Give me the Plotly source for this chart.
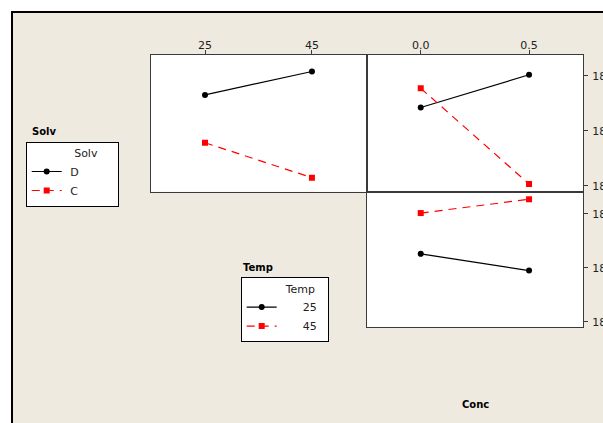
import plotly.graph_objects as go

W, H = 603, 423

# ---- data ----
temp_levels = [25, 45]
conc_levels = [0.0, 0.5]
conc_ticktext = ["0.0", "0.5"]

solv_D_by_temp = [18.531, 18.616]
solv_C_by_temp = [18.357, 18.230]
solv_D_by_conc = [18.485, 18.604]
solv_C_by_conc = [18.555, 18.207]
temp_25_by_conc = [18.252, 18.190]
temp_45_by_conc = [18.403, 18.454]

top_yticks = [18.2, 18.4, 18.6]
bottom_yticks = [18.0, 18.2, 18.4]
top_yrange = [18.179, 18.676]
bottom_yrange = [17.981, 18.481]

FONT = "DejaVu Sans"
BEIGE = "#EEEAE0"
AXC = "#3a3a3a"
NB = "\u00a0"


def px(p):
    return p / W


def py(p):
    return 1 - p / H


black = dict(color="black", width=1.2)
red = dict(color="#FF0000", width=1.2, dash="8px,6px")
mk_black = dict(symbol="circle", size=6, color="black")
mk_red = dict(symbol="square", size=6, color="#FF0000")

fig = go.Figure()

# Top-left: Solv lines vs Temp
fig.add_trace(go.Scatter(x=temp_levels, y=solv_D_by_temp, mode="lines+markers", name=NB + "D",
                         line=black, marker=mk_black, xaxis="x", yaxis="y",
                         legend="legend", legendgroup="D"))
fig.add_trace(go.Scatter(x=temp_levels, y=solv_C_by_temp, mode="lines+markers", name=NB + "C",
                         line=red, marker=mk_red, xaxis="x", yaxis="y",
                         legend="legend", legendgroup="C"))
# Top-right: Solv lines vs Conc
fig.add_trace(go.Scatter(x=conc_levels, y=solv_D_by_conc, mode="lines+markers", name=NB + "D",
                         line=black, marker=mk_black, xaxis="x2", yaxis="y2",
                         legend="legend", legendgroup="D", showlegend=False))
fig.add_trace(go.Scatter(x=conc_levels, y=solv_C_by_conc, mode="lines+markers", name=NB + "C",
                         line=red, marker=mk_red, xaxis="x2", yaxis="y2",
                         legend="legend", legendgroup="C", showlegend=False))
# Bottom-right: Temp lines vs Conc
fig.add_trace(go.Scatter(x=conc_levels, y=temp_25_by_conc, mode="lines+markers", name=NB * 6 + "25",
                         line=black, marker=mk_black, xaxis="x3", yaxis="y3",
                         legend="legend2"))
fig.add_trace(go.Scatter(x=conc_levels, y=temp_45_by_conc, mode="lines+markers", name=NB * 6 + "45",
                         line=red, marker=mk_red, xaxis="x3", yaxis="y3",
                         legend="legend2"))

ax_common = dict(showline=True, mirror=True, linecolor=AXC, linewidth=1, showgrid=False,
                 zeroline=False, automargin=False, tickcolor=AXC, ticklen=4,
                 tickfont=dict(family=FONT, size=11, color="#222"))

fig.update_layout(
    width=W, height=H, autosize=False,
    margin=dict(l=0, r=0, t=0, b=0, pad=0),
    paper_bgcolor=BEIGE, plot_bgcolor="white",
    showlegend=True,
    xaxis=dict(domain=[px(151), px(367)], anchor="y", side="top", range=[14.9, 55.3],
               tickvals=temp_levels, ticks="outside", ticklabelstandoff=-3, **ax_common),
    yaxis=dict(domain=[py(191.7), py(55)], anchor="x", range=top_yrange,
               showticklabels=False, ticks="", **ax_common),
    xaxis2=dict(domain=[px(367), px(583)], anchor="y2", side="top", range=[-0.248, 0.749],
                tickvals=conc_levels, ticktext=conc_ticktext, ticks="outside",
                ticklabelstandoff=-3, **ax_common),
    yaxis2=dict(domain=[py(191.7), py(55)], anchor="x2", side="right", range=top_yrange,
                tickvals=top_yticks, ticks="outside", ticklabelstandoff=2, **ax_common),
    xaxis3=dict(domain=[px(367), px(583)], anchor="y3", range=[-0.248, 0.749],
                showticklabels=False, ticks="", **ax_common),
    yaxis3=dict(domain=[py(327), py(192)], anchor="x3", side="right", range=bottom_yrange,
                tickvals=bottom_yticks, ticks="outside", ticklabelstandoff=2, **ax_common),
    legend=dict(x=px(25.7), y=py(141.7), xanchor="left", yanchor="top",
                bgcolor="white", bordercolor="black", borderwidth=1,
                font=dict(family=FONT, size=11, color="#222"), tracegroupgap=0,
                title=dict(text=NB * 13 + "Solv" + NB * 5, side="top",
                           font=dict(family=FONT, size=11, color="#222"))),
    legend2=dict(x=px(240.7), y=py(277.3), xanchor="left", yanchor="top",
                 bgcolor="white", bordercolor="black", borderwidth=1,
                 font=dict(family=FONT, size=11, color="#222"), tracegroupgap=0,
                 title=dict(text=NB * 12 + "Temp" + NB * 3, side="top",
                            font=dict(family=FONT, size=11, color="#222"))),
    annotations=[
        dict(text="<b>Solv</b>", x=px(30), y=py(131), xref="paper", yref="paper",
             xanchor="left", yanchor="middle", showarrow=False,
             font=dict(family=FONT, size=10, color="black")),
        dict(text="<b>Temp</b>", x=px(240.7), y=py(267), xref="paper", yref="paper",
             xanchor="left", yanchor="middle", showarrow=False,
             font=dict(family=FONT, size=10, color="black")),
        dict(text="<b>Conc</b>", x=px(460), y=py(404), xref="paper", yref="paper",
             xanchor="left", yanchor="middle", showarrow=False,
             font=dict(family=FONT, size=10, color="black")),
    ],
    shapes=[
        # white margin outside the frame
        dict(type="rect", xref="paper", yref="paper", x0=0, x1=1, y0=py(11), y1=1,
             fillcolor="white", line=dict(width=0), layer="above"),
        dict(type="rect", xref="paper", yref="paper", x0=0, x1=px(11), y0=0, y1=1,
             fillcolor="white", line=dict(width=0), layer="above"),
        # black frame edges
        dict(type="line", xref="paper", yref="paper", x0=px(11), x1=1, y0=py(12), y1=py(12),
             line=dict(color="black", width=2), layer="above"),
        dict(type="line", xref="paper", yref="paper", x0=px(12), x1=px(12), y0=0, y1=py(11),
             line=dict(color="black", width=2), layer="above"),
    ],
)

fig.write_html("out.html", config={"displayModeBar": False},
               post_script="document.body.style.margin='0';document.body.style.overflow='hidden';")
